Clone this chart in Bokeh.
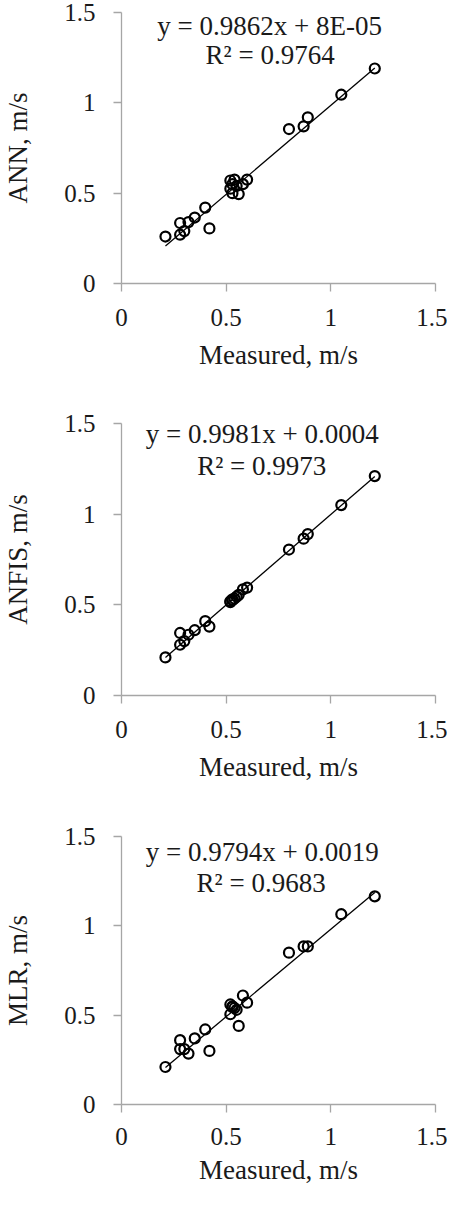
from bokeh.plotting import figure
from bokeh.layouts import column
from bokeh.models import Range1d, FixedTicker, Label
from bokeh.embed import file_html
from bokeh.resources import INLINE

measured = [0.21, 0.28, 0.28, 0.30, 0.32, 0.35, 0.40, 0.42,
            0.52, 0.52, 0.53, 0.53, 0.54, 0.55, 0.56, 0.58, 0.60,
            0.80, 0.87, 0.89, 1.05, 1.21]
ann = [0.26, 0.335, 0.27, 0.29, 0.34, 0.365, 0.42, 0.305,
       0.57, 0.525, 0.50, 0.55, 0.575, 0.54, 0.495, 0.55, 0.575,
       0.855, 0.87, 0.92, 1.045, 1.19]
anfis = [0.21, 0.345, 0.28, 0.30, 0.335, 0.36, 0.41, 0.38,
         0.515, 0.52, 0.525, 0.53, 0.535, 0.545, 0.555, 0.585, 0.595,
         0.805, 0.865, 0.89, 1.05, 1.21]
mlr = [0.21, 0.36, 0.31, 0.31, 0.285, 0.37, 0.42, 0.30,
       0.56, 0.505, 0.55, 0.545, 0.54, 0.53, 0.44, 0.61, 0.57,
       0.85, 0.885, 0.885, 1.065, 1.165]

model_names = ["ANN", "ANFIS", "MLR"]
slopes = [0.9862, 0.9981, 0.9794]
intercepts = [0.00008, 0.0004, 0.0019]
eq_texts = ["y = 0.9862x + 8E-05", "y = 0.9981x + 0.0004", "y = 0.9794x + 0.0019"]
r2_texts = ["R² = 0.9764", "R² = 0.9973", "R² = 0.9683"]
tick_values = [0, 0.5, 1, 1.5]
tick_labels = ["0", "0.5", "1", "1.5"]
x_title = "Measured, m/s"

FONT = "Liberation Serif"
AXIS_GRAY = "#a6a6a6"

series = [ann, anfis, mlr]
# figure heights, top borders, frame heights (layout only)
heights = [404, 416, 374]
tops = [12, 19, 16]
frames = [271, 272, 268]
tick_so = [17, 17, 15]
title_so = [11, 11, 7]
eq_pos = [(0.708, 1.425), (0.672, 1.44), (0.672, 1.412)]
r2_pos = [(0.71, 1.263), (0.67, 1.265), (0.667, 1.241)]

figs = []
for i in range(3):
    h = heights[i]
    p = figure(width=447, height=h, output_backend="svg", toolbar_location=None,
               x_range=Range1d(0, 1.5), y_range=Range1d(0, 1.5),
               min_border_left=118, min_border_right=12,
               min_border_top=tops[i], min_border_bottom=h - tops[i] - frames[i])
    p.outline_line_color = None
    p.xgrid.visible = False
    p.ygrid.visible = False
    p.background_fill_color = "white"
    p.border_fill_color = "white"

    for ax in (p.xaxis[0], p.yaxis[0]):
        ax.ticker = FixedTicker(ticks=tick_values)
        ax.major_label_overrides = {v: l for v, l in zip(tick_values, tick_labels)}
        ax.axis_line_color = AXIS_GRAY
        ax.axis_line_width = 1.3
        ax.major_tick_line_color = AXIS_GRAY
        ax.major_tick_line_width = 1.3
        ax.major_tick_in = 0
        ax.major_tick_out = 8
        ax.minor_tick_line_color = None
        ax.major_label_text_font = FONT
        ax.major_label_text_font_size = "25px"
        ax.major_label_text_color = "#1a1a1a"
        ax.axis_label_text_font = FONT
        ax.axis_label_text_font_size = "27px"
        ax.axis_label_text_font_style = "normal"
        ax.axis_label_text_color = "#1a1a1a"

    p.xaxis[0].axis_label = x_title
    p.xaxis[0].major_label_standoff = tick_so[i]
    p.xaxis[0].axis_label_standoff = title_so[i]
    p.yaxis[0].axis_label = model_names[i] + ", m/s"
    p.yaxis[0].major_label_standoff = 18
    p.yaxis[0].axis_label_standoff = 28

    xs = [min(measured), max(measured)]
    ys = [slopes[i] * x + intercepts[i] for x in xs]
    p.line(xs, ys, line_color="black", line_width=1.3)

    p.scatter(measured, series[i], marker="circle", size=10,
              fill_color=None, line_color="black", line_width=2.2)

    p.add_layout(Label(x=eq_pos[i][0], y=eq_pos[i][1], text=eq_texts[i],
                       text_align="center", text_baseline="alphabetic",
                       text_font=FONT, text_font_size="27px", text_color="#1a1a1a"))
    p.add_layout(Label(x=r2_pos[i][0], y=r2_pos[i][1], text=r2_texts[i],
                       text_align="center", text_baseline="alphabetic",
                       text_font=FONT, text_font_size="27px", text_color="#1a1a1a"))
    figs.append(p)

layout = column(*figs, spacing=0)
open("out.html", "w").write(file_html(layout, INLINE))
